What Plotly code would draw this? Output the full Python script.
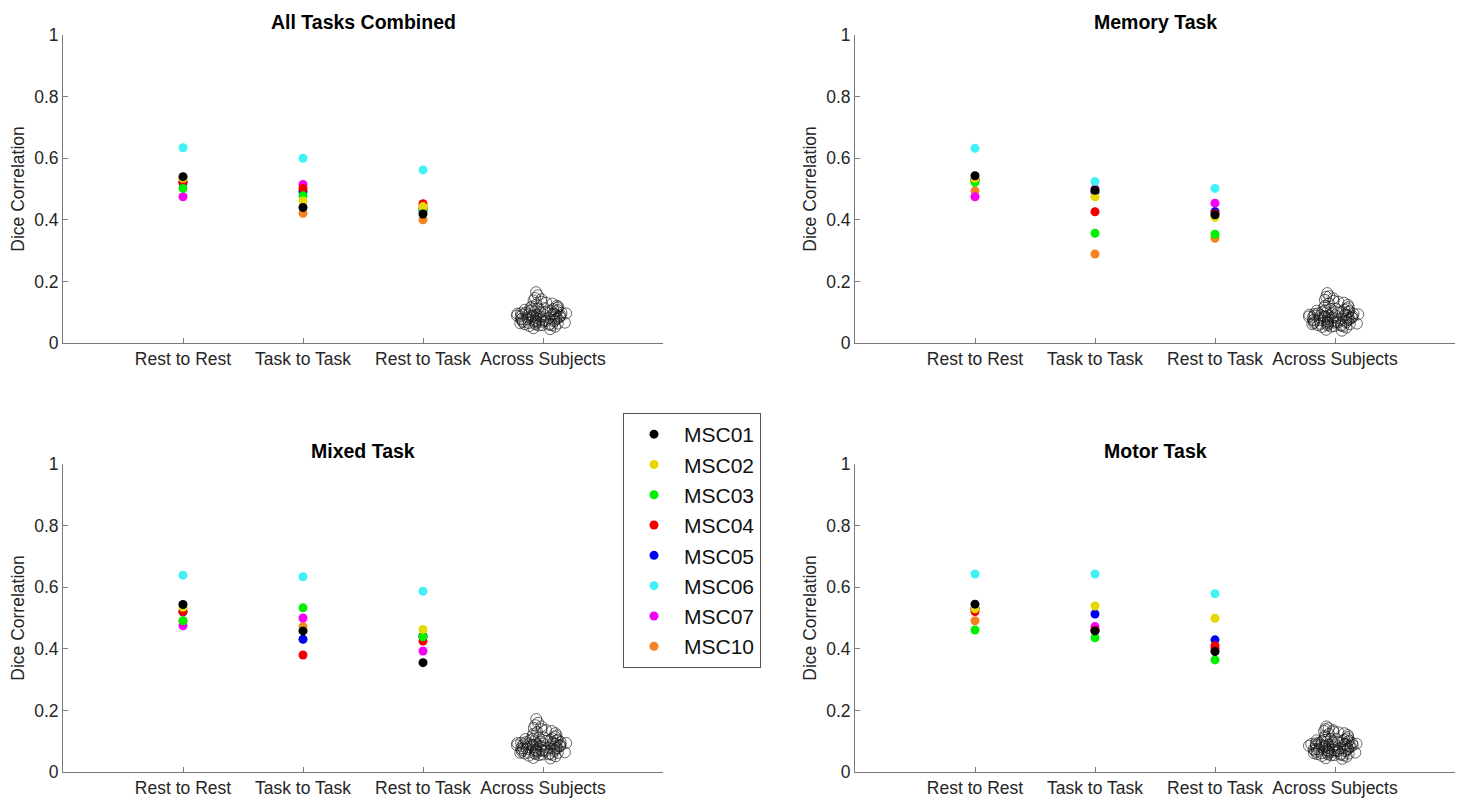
import plotly.graph_objects as go

categories = ["Rest to Rest", "Task to Task", "Rest to Task", "Across Subjects"]
subjects = ["MSC01", "MSC02", "MSC03", "MSC04", "MSC05", "MSC06", "MSC07", "MSC10"]
subject_colors = ["#000000", "#E6D800", "#00F000", "#F00000", "#0000F0", "#40F2F5", "#F500F5", "#F58220"]

panel_titles = ["All Tasks Combined", "Memory Task", "Mixed Task", "Motor Task"]

# Per subject values: [Rest to Rest, Task to Task, Rest to Task]
all_tasks = [
    [0.540, 0.440, 0.419], [0.535, 0.461, 0.443], [0.502, 0.478, 0.435], [0.524, 0.502, 0.452],
    [0.520, 0.491, 0.430], [0.634, 0.600, 0.562], [0.475, 0.515, 0.440], [0.520, 0.421, 0.400],
]
memory_task = [
    [0.543, 0.496, 0.416], [0.535, 0.475, 0.408], [0.522, 0.356, 0.353], [0.530, 0.426, 0.420],
    [0.530, 0.490, 0.426], [0.632, 0.524, 0.502], [0.475, 0.500, 0.454], [0.494, 0.289, 0.340],
]
mixed_task = [
    [0.544, 0.458, 0.355], [0.535, 0.460, 0.463], [0.491, 0.533, 0.439], [0.521, 0.380, 0.425],
    [0.520, 0.431, 0.440], [0.639, 0.634, 0.587], [0.475, 0.500, 0.393], [0.490, 0.472, 0.440],
]
motor_task = [
    [0.545, 0.458, 0.391], [0.530, 0.539, 0.499], [0.461, 0.436, 0.364], [0.521, 0.460, 0.410],
    [0.530, 0.513, 0.429], [0.643, 0.643, 0.579], [0.530, 0.472, 0.400], [0.491, 0.460, 0.400],
]

# Across-subject similarity values (open circles)
across_all = [0.165, 0.092, 0.071, 0.118, 0.058, 0.101, 0.084, 0.155, 0.066, 0.109, 0.079, 0.125,
              0.062, 0.095, 0.088, 0.142, 0.053, 0.103, 0.074, 0.131, 0.069, 0.097, 0.083, 0.112,
              0.048, 0.091, 0.077, 0.121, 0.064, 0.105, 0.086, 0.138, 0.057, 0.099, 0.072, 0.115,
              0.081, 0.094, 0.068, 0.128, 0.060, 0.107, 0.089, 0.146, 0.055, 0.096, 0.076, 0.113,
              0.045, 0.087, 0.073, 0.119, 0.063, 0.100, 0.082, 0.134, 0.059, 0.093, 0.078, 0.110,
              0.085, 0.070, 0.098, 0.061, 0.090, 0.075, 0.104, 0.067, 0.093, 0.080, 0.108, 0.065,
              0.086, 0.072, 0.096, 0.058, 0.089, 0.077, 0.101, 0.069, 0.092, 0.083, 0.114, 0.063]
across_memory = [0.162, 0.088, 0.067, 0.121, 0.054, 0.098, 0.081, 0.152, 0.063, 0.106, 0.075, 0.128,
                 0.058, 0.092, 0.085, 0.145, 0.050, 0.101, 0.071, 0.134, 0.066, 0.094, 0.080, 0.115,
                 0.043, 0.089, 0.074, 0.124, 0.061, 0.102, 0.083, 0.140, 0.053, 0.096, 0.069, 0.112,
                 0.078, 0.091, 0.065, 0.131, 0.057, 0.104, 0.086, 0.150, 0.052, 0.093, 0.073, 0.110,
                 0.040, 0.084, 0.070, 0.117, 0.060, 0.097, 0.079, 0.137, 0.056, 0.090, 0.076, 0.108,
                 0.082, 0.066, 0.095, 0.059, 0.087, 0.072, 0.100, 0.064, 0.090, 0.077, 0.105, 0.062,
                 0.083, 0.069, 0.093, 0.055, 0.086, 0.074, 0.099, 0.067, 0.089, 0.080, 0.111, 0.061]
across_mixed = [0.172, 0.090, 0.069, 0.123, 0.056, 0.100, 0.082, 0.160, 0.064, 0.107, 0.077, 0.130,
                0.060, 0.094, 0.086, 0.148, 0.051, 0.102, 0.072, 0.136, 0.067, 0.095, 0.081, 0.116,
                0.046, 0.090, 0.075, 0.126, 0.062, 0.104, 0.084, 0.143, 0.055, 0.097, 0.070, 0.114,
                0.079, 0.092, 0.066, 0.133, 0.058, 0.105, 0.087, 0.152, 0.053, 0.094, 0.074, 0.111,
                0.044, 0.085, 0.071, 0.119, 0.061, 0.099, 0.080, 0.139, 0.057, 0.091, 0.077, 0.109,
                0.084, 0.068, 0.097, 0.060, 0.088, 0.073, 0.103, 0.065, 0.092, 0.078, 0.107, 0.063,
                0.085, 0.071, 0.095, 0.057, 0.088, 0.076, 0.100, 0.068, 0.091, 0.082, 0.112, 0.062]
across_motor = [0.148, 0.089, 0.068, 0.117, 0.055, 0.097, 0.080, 0.142, 0.063, 0.104, 0.074, 0.124,
                0.059, 0.091, 0.084, 0.136, 0.050, 0.100, 0.071, 0.129, 0.066, 0.093, 0.079, 0.111,
                0.045, 0.088, 0.073, 0.120, 0.061, 0.101, 0.083, 0.133, 0.054, 0.095, 0.069, 0.109,
                0.077, 0.090, 0.065, 0.126, 0.057, 0.102, 0.085, 0.139, 0.052, 0.092, 0.072, 0.107,
                0.043, 0.082, 0.070, 0.114, 0.060, 0.096, 0.078, 0.131, 0.056, 0.087, 0.075, 0.105,
                0.083, 0.067, 0.094, 0.058, 0.086, 0.071, 0.099, 0.064, 0.089, 0.076, 0.103, 0.061,
                0.084, 0.070, 0.092, 0.054, 0.087, 0.074, 0.098, 0.066, 0.088, 0.081, 0.108, 0.060]

panels = [all_tasks, memory_task, mixed_task, motor_task]
across = [across_all, across_memory, across_mixed, across_motor]

FONT = "Liberation Sans, Arial, Helvetica, sans-serif"
AXIS_COLOR = "#7a7a7a"
TEXT_COLOR = "#262626"

fig = go.Figure()

for p, (vals, acr) in enumerate(zip(panels, across)):
    xa = "x" if p == 0 else f"x{p + 1}"
    ya = "y" if p == 0 else f"y{p + 1}"
    # across-subjects cloud drawn via the library's jitter
    fig.add_trace(go.Box(
        x=[categories[3]] * len(acr), y=acr, xaxis=xa, yaxis=ya,
        boxpoints="all", jitter=0.9, pointpos=0,
        fillcolor="rgba(0,0,0,0)", line=dict(color="rgba(0,0,0,0)", width=0),
        marker=dict(symbol="circle-open", size=11, color="rgba(20,20,20,0.8)",
                    line=dict(width=0.8)),
        showlegend=False, hoverinfo="skip",
    ))
    for s in reversed(range(len(subjects))):
        fig.add_trace(go.Scatter(
            x=categories[:3], y=vals[s], xaxis=xa, yaxis=ya, mode="markers",
            marker=dict(size=9, color=subject_colors[s]),
            name=subjects[s], legendrank=s + 1,
            showlegend=(p == 0),
        ))

W, H = 1466, 799


def px_x(v):
    return v / W


def px_y(v):
    return 1 - v / H


x_domains = [(px_x(63), px_x(663)), (px_x(855), px_x(1455))]
y_domains = [(px_y(343), px_y(35)), (px_y(772), px_y(464))]

layout = dict(
    width=W, height=H, template="none",
    paper_bgcolor="white", plot_bgcolor="white",
    margin=dict(l=0, r=0, t=0, b=0),
    font=dict(family=FONT, size=17, color=TEXT_COLOR),
    showlegend=True,
    legend=dict(x=px_x(623), y=px_y(413), xanchor="left", yanchor="top",
                bordercolor="#555555", borderwidth=1, bgcolor="white",
                font=dict(size=21, color="#111111"), itemwidth=50,
                traceorder="normal", tracegroupgap=0),
    boxgap=0.3,
)

annotations = []
for p in range(4):
    xd = x_domains[p % 2]
    yd = y_domains[p // 2]
    suffix = "" if p == 0 else str(p + 1)
    anchor_x = "x" if p == 0 else f"x{p + 1}"
    anchor_y = "y" if p == 0 else f"y{p + 1}"
    layout["xaxis" + suffix] = dict(
        domain=list(xd), anchor=anchor_y, type="category",
        categoryorder="array", categoryarray=categories, range=[-1, 4],
        showline=True, linecolor=AXIS_COLOR, linewidth=1,
        ticks="inside", ticklen=5, tickcolor=AXIS_COLOR,
        showgrid=False, zeroline=False, automargin=False,
        tickfont=dict(size=17.5, color=TEXT_COLOR),
    )
    layout["yaxis" + suffix] = dict(
        domain=list(yd), anchor=anchor_x, range=[0, 1],
        tickvals=[0, 0.2, 0.4, 0.6, 0.8, 1], ticktext=["0", "0.2", "0.4", "0.6", "0.8", "1"],
        showline=True, linecolor=AXIS_COLOR, linewidth=1,
        ticks="inside", ticklen=5, tickcolor=AXIS_COLOR,
        showgrid=False, zeroline=False, automargin=False,
        tickfont=dict(size=17.5, color=TEXT_COLOR),
        title=dict(text="Dice Correlation", font=dict(size=17.5, color=TEXT_COLOR), standoff=5),
    )
    annotations.append(dict(
        text="<b>" + panel_titles[p] + "</b>", xref="paper", yref="paper",
        x=(xd[0] + xd[1]) / 2, y=yd[1] + 13 / H, xanchor="center", yanchor="middle",
        showarrow=False, font=dict(size=19.5, color="#000000", family=FONT),
    ))

layout["annotations"] = annotations
fig.update_layout(**layout)
# remove the page's default body margin so the figure fills the window exactly
fig.write_html("out.html", config={"displayModeBar": False},
               post_script="document.body.style.margin='0';")
